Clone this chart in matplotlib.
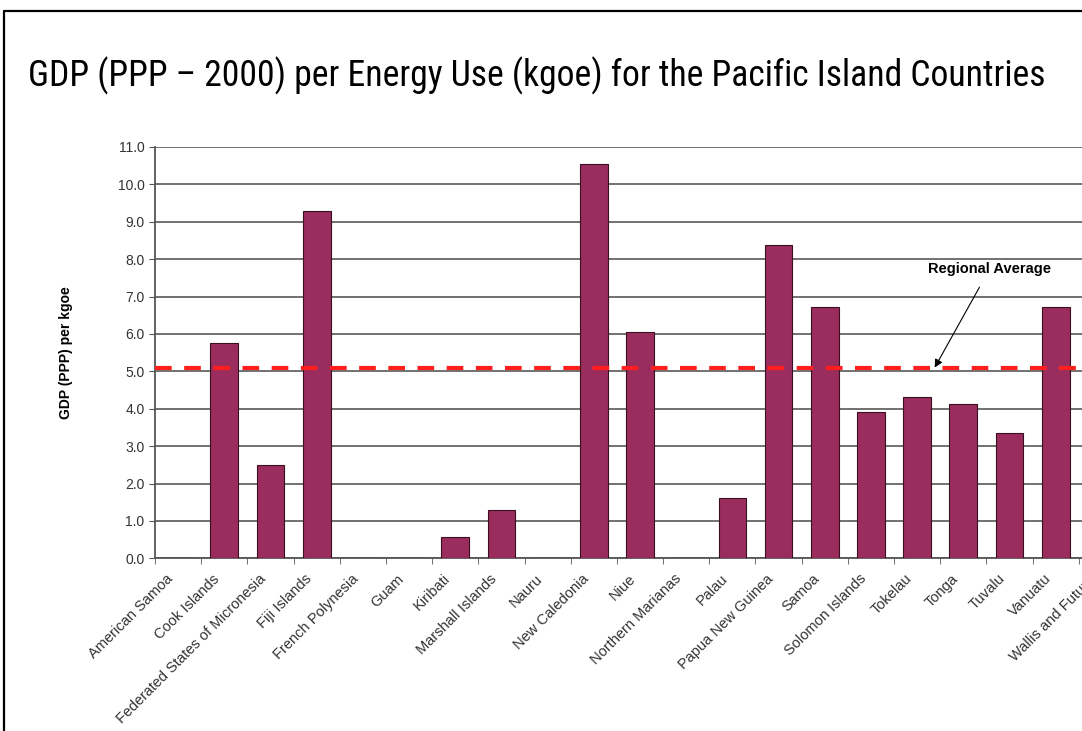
import numpy as np
import matplotlib.pyplot as plt
import matplotlib.transforms as mtrans
from matplotlib.lines import Line2D

countries = ['American Samoa', 'Cook Islands', 'Federated States of Micronesia',
             'Fiji Islands', 'French Polynesia', 'Guam', 'Kiribati',
             'Marshall Islands', 'Nauru', 'New Caledonia', 'Niue',
             'Northern Marianas', 'Palau', 'Papua New Guinea', 'Samoa',
             'Solomon Islands', 'Tokelau', 'Tonga', 'Tuvalu', 'Vanuatu',
             'Wallis and Futuna']
gdp_per_kgoe = [0.0, 5.77, 2.49, 9.30, 0.0, 0.0, 0.58, 1.29, 0.0, 10.55, 6.05,
                0.0, 1.61, 8.38, 6.73, 3.90, 4.32, 4.13, 3.36, 6.73, 0.0]
regional_avg = 5.1
yticks = np.arange(0, 11.5, 1.0)

plt.rcParams['font.family'] = ['Liberation Sans', 'DejaVu Sans']

fig = plt.figure(figsize=(10.82, 7.31), dpi=100)
fig.patch.set_facecolor('white')

# slide border (top and left visible)
fig.add_artist(Line2D([4/1082, 4/1082, 1.0], [0.0, 1 - 11/731, 1 - 11/731],
                      transform=fig.transFigure, color='black', lw=1.6))

fig.text(28/1082, 1 - 86.5/731,
         'GDP (PPP \u2013 2000) per Energy Use (kgoe) for the Pacific Island Countries',
         family=['Roboto Condensed', 'DejaVu Sans'], stretch='condensed',
         fontsize=25.7, va='baseline', ha='left')

ax = fig.add_axes([155/1082, (731-558.3)/731, 970/1082, (558.3-147)/731])
x = np.arange(len(countries))
ax.bar(x, gdp_per_kgoe, width=0.6, color='#9b2d5e', edgecolor='#3a1020',
       linewidth=0.8, zorder=3)
ax.axhline(regional_avg, color='#ff1f1f', lw=3, dashes=(4, 3), zorder=4)

ax.set_xlim(-0.5, len(countries) - 0.5)
ax.set_ylim(0, 11)
ax.set_yticks(yticks)
ax.set_yticklabels(['%.1f' % v for v in yticks], fontsize=10, color='#333333')
ax.yaxis.grid(True, color='#666666', lw=1.3, zorder=0)
ax.set_axisbelow(True)

ax.set_xticks(x)
ax.set_xticklabels(countries, rotation=45, ha='right', rotation_mode='anchor',
                   fontsize=10.5, color='#333333')
ax.tick_params(axis='x', length=0, pad=6)
shift = mtrans.ScaledTranslation(-12/100, -5/100, fig.dpi_scale_trans)
for lab in ax.get_xticklabels():
    lab.set_transform(lab.get_transform() + shift)
ax.set_xticks(np.arange(-0.5, len(countries), 1.0), minor=True)
ax.tick_params(axis='x', which='minor', length=4, color='#555555')
ax.tick_params(axis='y', length=4, color='#555555')

for s in ['top', 'right']:
    ax.spines[s].set_visible(False)
ax.spines['left'].set_color('#555555')
ax.spines['bottom'].set_color('#555555')
ax.spines['left'].set_linewidth(1.3)
ax.spines['bottom'].set_linewidth(1.3)

ax.set_ylabel('GDP (PPP) per kgoe', fontsize=10, fontweight='bold')
ax.yaxis.set_label_coords(-0.085, 0.5)

ax.annotate('Regional Average', xy=(16.38, regional_avg), xytext=(17.57, 7.74),
            fontsize=10.5, fontweight='bold', ha='center', va='center',
            arrowprops=dict(arrowstyle='-|>', color='black', lw=0.8,
                            shrinkA=7, shrinkB=0, mutation_scale=12),
            zorder=5)

fig.savefig('out.png', dpi=100)
